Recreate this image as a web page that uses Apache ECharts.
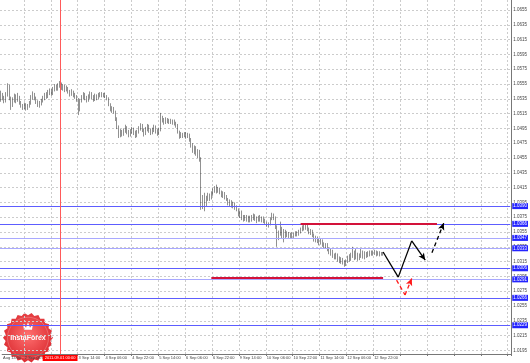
<!DOCTYPE html>
<html><head><meta charset="utf-8">
<script src="https://cdn.jsdelivr.net/npm/echarts@6/dist/echarts.min.js"></script>
<style>html,body{margin:0;padding:0;background:#fff}#c{width:530px;height:363px}</style>
</head><body><div id="c"></div>
<script>
// [open, close, low, high] per hourly bar
const candles = [
[1.0535,1.0541,1.0531,1.0546],[1.0541,1.0537,1.0533,1.0543],[1.0537,1.0533,1.0529,1.0539],[1.0533,1.0540,1.0530,1.0544],
[1.0540,1.0551,1.0538,1.0556],[1.0551,1.0536,1.0533,1.0554],[1.0536,1.0526,1.0520,1.0538],[1.0526,1.0534,1.0524,1.0537],
[1.0534,1.0538,1.0530,1.0542],[1.0538,1.0533,1.0529,1.0541],[1.0533,1.0537,1.0531,1.0543],[1.0537,1.0530,1.0527,1.0539],
[1.0530,1.0526,1.0523,1.0532],[1.0526,1.0523,1.0520,1.0528],[1.0523,1.0527,1.0521,1.0530],[1.0527,1.0522,1.0519,1.0529],
[1.0522,1.0525,1.0520,1.0528],[1.0525,1.0529,1.0523,1.0532],[1.0529,1.0537,1.0527,1.0540],[1.0537,1.0541,1.0534,1.0545],
[1.0541,1.0536,1.0533,1.0543],[1.0536,1.0531,1.0528,1.0538],[1.0531,1.0527,1.0524,1.0533],[1.0527,1.0529,1.0523,1.0532],
[1.0529,1.0533,1.0526,1.0535],[1.0533,1.0536,1.0530,1.0539],[1.0536,1.0540,1.0533,1.0543],[1.0540,1.0538,1.0535,1.0544],
[1.0538,1.0543,1.0536,1.0547],[1.0543,1.0546,1.0540,1.0549],[1.0546,1.0542,1.0539,1.0548],[1.0542,1.0548,1.0540,1.0551],
[1.0548,1.0551,1.0545,1.0555],[1.0551,1.0549,1.0546,1.0554],[1.0549,1.0553,1.0546,1.0556],[1.0553,1.0555,1.0550,1.0559],
[1.0555,1.0550,1.0547,1.0557],[1.0550,1.0552,1.0546,1.0555],[1.0552,1.0547,1.0544,1.0554],[1.0547,1.0549,1.0545,1.0553],
[1.0549,1.0545,1.0542,1.0551],[1.0545,1.0541,1.0538,1.0547],[1.0541,1.0544,1.0539,1.0548],[1.0544,1.0540,1.0537,1.0546],
[1.0540,1.0538,1.0535,1.0543],[1.0538,1.0534,1.0531,1.0540],[1.0534,1.0520,1.0513,1.0536],[1.0520,1.0532,1.0518,1.0535],
[1.0532,1.0537,1.0530,1.0540],[1.0537,1.0541,1.0534,1.0544],[1.0541,1.0536,1.0533,1.0543],[1.0536,1.0533,1.0530,1.0539],
[1.0533,1.0538,1.0531,1.0541],[1.0538,1.0542,1.0535,1.0545],[1.0542,1.0537,1.0534,1.0544],[1.0537,1.0535,1.0531,1.0540],
[1.0535,1.0539,1.0532,1.0542],[1.0539,1.0536,1.0533,1.0541],[1.0536,1.0540,1.0534,1.0543],[1.0540,1.0542,1.0537,1.0544],
[1.0542,1.0539,1.0537,1.0544],[1.0539,1.0541,1.0537,1.0543],[1.0541,1.0538,1.0536,1.0543],[1.0538,1.0535,1.0533,1.0540],
[1.0535,1.0527,1.0525,1.0537],[1.0527,1.0520,1.0518,1.0529],[1.0520,1.0522,1.0516,1.0525],[1.0522,1.0517,1.0515,1.0524],
[1.0517,1.0508,1.0505,1.0519],[1.0508,1.0497,1.0494,1.0510],[1.0497,1.0486,1.0482,1.0499],[1.0486,1.0490,1.0483,1.0494],
[1.0490,1.0487,1.0484,1.0493],[1.0487,1.0492,1.0485,1.0495],[1.0492,1.0496,1.0489,1.0500],[1.0496,1.0490,1.0487,1.0498],
[1.0490,1.0486,1.0483,1.0493],[1.0486,1.0491,1.0484,1.0494],[1.0491,1.0494,1.0488,1.0497],[1.0494,1.0489,1.0486,1.0496],
[1.0489,1.0485,1.0482,1.0492],[1.0485,1.0490,1.0483,1.0493],[1.0490,1.0495,1.0488,1.0498],[1.0495,1.0499,1.0492,1.0502],
[1.0499,1.0493,1.0490,1.0501],[1.0493,1.0488,1.0484,1.0495],[1.0488,1.0494,1.0486,1.0497],[1.0494,1.0498,1.0491,1.0501],
[1.0498,1.0492,1.0489,1.0500],[1.0492,1.0489,1.0486,1.0495],[1.0489,1.0493,1.0487,1.0496],[1.0493,1.0497,1.0490,1.0500],
[1.0497,1.0491,1.0488,1.0499],[1.0491,1.0487,1.0485,1.0494],[1.0487,1.0493,1.0486,1.0496],[1.0493,1.0510,1.0491,1.0516],
[1.0510,1.0506,1.0503,1.0512],[1.0506,1.0503,1.0500,1.0509],[1.0503,1.0507,1.0501,1.0510],[1.0507,1.0504,1.0502,1.0509],
[1.0504,1.0506,1.0501,1.0508],[1.0506,1.0503,1.0501,1.0508],[1.0503,1.0505,1.0500,1.0507],[1.0505,1.0502,1.0499,1.0507],
[1.0502,1.0499,1.0496,1.0504],[1.0499,1.0490,1.0488,1.0501],[1.0490,1.0484,1.0481,1.0492],[1.0484,1.0487,1.0482,1.0490],
[1.0487,1.0485,1.0482,1.0489],[1.0485,1.0488,1.0483,1.0490],[1.0488,1.0484,1.0481,1.0490],[1.0484,1.0486,1.0482,1.0489],
[1.0486,1.0480,1.0477,1.0488],[1.0480,1.0472,1.0469,1.0482],[1.0472,1.0466,1.0462,1.0475],[1.0466,1.0469,1.0460,1.0472],
[1.0469,1.0461,1.0458,1.0471],[1.0461,1.0464,1.0455,1.0467],[1.0464,1.0454,1.0450,1.0466],[1.0454,1.0392,1.0385,1.0456],
[1.0392,1.0400,1.0386,1.0405],[1.0400,1.0393,1.0383,1.0408],[1.0393,1.0401,1.0389,1.0404],[1.0401,1.0405,1.0397,1.0408],
[1.0405,1.0401,1.0397,1.0407],[1.0401,1.0407,1.0399,1.0410],[1.0407,1.0411,1.0404,1.0414],[1.0411,1.0414,1.0408,1.0417],
[1.0414,1.0410,1.0407,1.0419],[1.0410,1.0413,1.0408,1.0416],[1.0413,1.0409,1.0406,1.0415],[1.0409,1.0405,1.0402,1.0411],
[1.0405,1.0407,1.0401,1.0410],[1.0407,1.0402,1.0399,1.0409],[1.0402,1.0399,1.0397,1.0405],[1.0399,1.0394,1.0391,1.0401],
[1.0394,1.0397,1.0390,1.0399],[1.0397,1.0391,1.0388,1.0398],[1.0391,1.0393,1.0387,1.0396],[1.0393,1.0388,1.0385,1.0395],
[1.0388,1.0385,1.0383,1.0391],[1.0385,1.0379,1.0376,1.0387],[1.0379,1.0382,1.0374,1.0384],[1.0382,1.0375,1.0371,1.0384],
[1.0375,1.0373,1.0369,1.0378],[1.0373,1.0376,1.0370,1.0378],[1.0376,1.0372,1.0369,1.0378],[1.0372,1.0375,1.0368,1.0377],
[1.0375,1.0371,1.0368,1.0377],[1.0371,1.0374,1.0369,1.0378],[1.0374,1.0377,1.0371,1.0380],[1.0377,1.0373,1.0370,1.0379],
[1.0373,1.0371,1.0367,1.0376],[1.0371,1.0375,1.0369,1.0377],[1.0375,1.0372,1.0369,1.0378],[1.0372,1.0374,1.0368,1.0376],
[1.0374,1.0370,1.0367,1.0376],[1.0370,1.0368,1.0366,1.0373],[1.0368,1.0364,1.0362,1.0369],[1.0364,1.0366,1.0361,1.0368],
[1.0366,1.0373,1.0364,1.0375],[1.0373,1.0378,1.0371,1.0381],[1.0378,1.0374,1.0371,1.0380],[1.0374,1.0362,1.0359,1.0376],
[1.0362,1.0348,1.0335,1.0364],[1.0348,1.0354,1.0344,1.0357],[1.0354,1.0360,1.0350,1.0369],[1.0360,1.0352,1.0346,1.0362],
[1.0352,1.0356,1.0341,1.0359],[1.0356,1.0351,1.0347,1.0358],[1.0351,1.0353,1.0348,1.0356],[1.0353,1.0350,1.0347,1.0355],
[1.0350,1.0352,1.0347,1.0354],[1.0352,1.0349,1.0346,1.0355],[1.0349,1.0351,1.0347,1.0354],[1.0351,1.0354,1.0349,1.0356],
[1.0354,1.0352,1.0349,1.0356],[1.0352,1.0355,1.0350,1.0358],[1.0355,1.0359,1.0353,1.0361],[1.0359,1.0362,1.0356,1.0364],
[1.0362,1.0360,1.0357,1.0365],[1.0360,1.0363,1.0358,1.0366],[1.0363,1.0359,1.0356,1.0365],[1.0359,1.0355,1.0352,1.0361],
[1.0355,1.0357,1.0351,1.0359],[1.0357,1.0351,1.0348,1.0358],[1.0351,1.0345,1.0342,1.0353],[1.0345,1.0348,1.0341,1.0350],
[1.0348,1.0343,1.0340,1.0349],[1.0343,1.0340,1.0337,1.0346],[1.0340,1.0344,1.0338,1.0346],[1.0344,1.0339,1.0335,1.0345],
[1.0339,1.0336,1.0333,1.0341],[1.0336,1.0338,1.0333,1.0340],[1.0338,1.0332,1.0329,1.0340],[1.0332,1.0328,1.0325,1.0334],
[1.0328,1.0330,1.0323,1.0332],[1.0330,1.0324,1.0320,1.0331],[1.0324,1.0321,1.0318,1.0326],[1.0321,1.0325,1.0318,1.0327],
[1.0325,1.0319,1.0315,1.0326],[1.0319,1.0316,1.0313,1.0322],[1.0316,1.0318,1.0312,1.0321],[1.0318,1.0314,1.0311,1.0320],
[1.0314,1.0311,1.0308,1.0317],[1.0311,1.0316,1.0309,1.0318],[1.0316,1.0321,1.0313,1.0323],[1.0321,1.0318,1.0315,1.0325],
[1.0318,1.0323,1.0316,1.0327],[1.0323,1.0327,1.0320,1.0335],[1.0327,1.0320,1.0317,1.0330],[1.0320,1.0325,1.0318,1.0332],
[1.0325,1.0319,1.0316,1.0327],[1.0319,1.0323,1.0317,1.0326],[1.0323,1.0328,1.0320,1.0333],[1.0328,1.0322,1.0319,1.0330],
[1.0322,1.0326,1.0318,1.0329],[1.0326,1.0323,1.0320,1.0328],[1.0323,1.0327,1.0321,1.0329],[1.0327,1.0325,1.0322,1.0330],
[1.0325,1.0328,1.0323,1.0330],[1.0328,1.0326,1.0323,1.0330],[1.0326,1.0329,1.0324,1.0331],[1.0329,1.0325,1.0322,1.0330],
[1.0325,1.0327,1.0323,1.0329],[1.0327,1.0324,1.0322,1.0329],[1.0324,1.0326,1.0323,1.0328],[1.0326,1.0325,1.0323,1.0328]
];
const slotCount = 303;              // hourly slots across the visible window (incl. future area)
const tickIndex = [13,29,45,61,77,93,109,125,141,157,173,189,205,221,237,253,269,285,301];
const tickLabels = ['2 Sep 06:00','','3 Sep 14:00','4 Sep 06:00','4 Sep 22:00','5 Sep 14:00','6 Sep 06:00','6 Sep 22:00','9 Sep 14:00','10 Sep 06:00','10 Sep 22:00','11 Sep 14:00','12 Sep 06:00','12 Sep 22:00','','','','',''];
const firstLabel = 'Aug 14:00';
const priceMin = 1.0195, priceMax = 1.0655, priceStep = 0.0020;
const levels = [1.0390, 1.0366, 1.0347, 1.0333, 1.0306, 1.0291, 1.0266, 1.0229];
const levelPale = [false, false, true, true, false, true, false, false];
const bidPrice = 1.0325;
const markerIndex = 34, markerLabel = '2011.09.01 00:00';
const resistance = [[178, 1.0366], [259, 1.0366]];
const support = [[125, 1.0293], [227, 1.0293]];
const pathMain = [[227, 1.0328], [236, 1.0294], [244, 1.0343], [252, 1.0317]];
const pathUp = [[256, 1.0327], [263, 1.0367]];
const pathAlt = [[235, 1.0290], [240, 1.0270], [244, 1.0292]];

const categories = [];
for (let i = 0; i < slotCount; i++) categories.push(String(i));
const tickSet = new Set(tickIndex);
const labelMap = {0: firstLabel};
tickIndex.forEach((k, j) => { labelMap[k] = tickLabels[j]; });

function segs(path, style, arrow) {
  const out = [];
  for (let i = 0; i < path.length - 1; i++) {
    const last = i === path.length - 2;
    out.push([
      {coord: path[i], symbol: 'none', lineStyle: style},
      {coord: path[i + 1], symbol: (arrow && last) ? 'arrow' : 'none', symbolSize: [5, 7]}
    ]);
  }
  return out;
}
const blk = {color: '#000', width: 1.3, type: 'solid'};
const blkD = {color: '#000', width: 1.3, type: [4, 3]};
const redD = {color: '#ff1a1a', width: 1.3, type: [4, 3]};
const redS = {color: '#d3123a', width: 2, type: 'solid'};

const FONT = 'Liberation Sans';
const levelData = levels.map((v, i) => ({
  yAxis: v,
  lineStyle: {color: levelPale[i] ? '#a9a9ff' : '#5d5dff', width: 1, type: 'solid'},
  label: {show: true, position: 'end', distance: 2, formatter: v.toFixed(4), color: '#fff',
    backgroundColor: '#2424ff', fontSize: 4.5, fontFamily: FONT, padding: [0.5, 1]}
}));
levelData.push({
  yAxis: bidPrice, lineStyle: {opacity: 0},
  label: {show: true, position: 'end', distance: 2, formatter: bidPrice.toFixed(4), color: '#fff',
    backgroundColor: '#000', fontSize: 4.5, fontFamily: FONT, padding: [0.5, 1]}
});

function seal(cx, cy, R, r, n) {
  const pts = [];
  for (let i = 0; i < n * 2; i++) {
    const a = Math.PI * i / n;
    const rr = i % 2 ? r : R;
    pts.push([cx + rr * Math.cos(a), cy + rr * Math.sin(a)]);
  }
  return pts;
}

const chart = echarts.init(document.getElementById('c'), null, {renderer: 'canvas'});
chart.setOption({
  animation: false,
  backgroundColor: '#fff',
  grid: [
    {left: 0, right: 19, top: 0, bottom: 9},
    {left: 0, right: 19, top: 10, bottom: 12.6}
  ],
  xAxis: [
    {type: 'category', gridIndex: 0, data: categories, boundaryGap: true,
     axisLine: {lineStyle: {color: '#777', width: 1}},
     axisTick: {show: true, length: 2, interval: (i) => tickSet.has(i), lineStyle: {color: '#777'}},
     axisLabel: {interval: (i) => i === 0 || tickSet.has(i), formatter: (v, i) => labelMap[i] || '',
       fontSize: 4, color: '#444', align: 'left', margin: 2, fontFamily: FONT},
     splitLine: {show: true, interval: (i) => tickSet.has(i), lineStyle: {color: '#cccccc', type: [2, 2], width: 1}}},
    {type: 'category', gridIndex: 1, data: categories, boundaryGap: true, show: false}
  ],
  yAxis: [
    {type: 'value', gridIndex: 0, min: 0, max: 1, position: 'right',
     axisLine: {show: true, lineStyle: {color: '#777'}}, axisLabel: {show: false},
     axisTick: {show: false}, splitLine: {show: false}},
    {type: 'value', gridIndex: 1, min: priceMin, max: priceMax, interval: priceStep, position: 'right',
     axisLine: {show: false}, axisTick: {show: false},
     axisLabel: {fontSize: 4.5, color: '#444', margin: 3, fontFamily: FONT, formatter: (v) => v.toFixed(4)},
     splitLine: {lineStyle: {color: '#cccccc', type: [2, 2], width: 1}}}
  ],
  series: [
    {type: 'line', xAxisIndex: 1, yAxisIndex: 1, data: [], silent: true, z: 1,
     markLine: {silent: true, precision: 4, symbol: ['none', 'none'], animation: false, data: levelData}},
    {type: 'candlestick', xAxisIndex: 1, yAxisIndex: 1, data: candles, barWidth: 0.9, z: 2,
     itemStyle: {color: '#222', color0: '#222', borderColor: '#222', borderColor0: '#222', borderWidth: 0.5}},
    {type: 'line', xAxisIndex: 1, yAxisIndex: 1, data: [], silent: true, z: 3,
     markLine: {silent: true, precision: 4, symbol: ['none', 'none'], animation: false, label: {show: false},
       data: [].concat(segs(resistance, redS, false), segs(support, redS, false),
                       segs(pathMain, blk, true), segs(pathUp, blkD, true), segs(pathAlt, redD, true))}},
    {type: 'line', xAxisIndex: 0, yAxisIndex: 0, data: [], silent: true,
     markLine: {silent: true, symbol: ['none', 'none'], animation: false,
       lineStyle: {color: '#ff5a5a', width: 1, type: 'solid'},
       data: [{xAxis: markerIndex,
         label: {show: true, position: 'start', distance: 1, formatter: markerLabel, color: '#fff',
           backgroundColor: '#ff0000', fontSize: 4, fontFamily: FONT, padding: [1, 2]}}]}}
  ],
  graphic: [{
    type: 'group', left: 3, top: 313, z: 100,
    children: [
      {type: 'polygon', shape: {points: seal(25, 25, 25, 22.6, 22)},
       style: {fill: {type: 'radial', x: 0.5, y: 0.45, r: 0.6,
         colorStops: [{offset: 0, color: '#ff6f6f'}, {offset: 1, color: '#d8262c'}]}}},
      {type: 'circle', shape: {cx: 25, cy: 25, r: 20.5}, style: {fill: 'none', stroke: 'rgba(255,255,255,0.35)', lineWidth: 0.6}},
      {type: 'polygon', shape: {points: [[20,11],[23,15],[25,9.5],[27,15],[30,11],[29,17],[21,17]]}, style: {fill: '#fff'}},
      {type: 'text', style: {text: 'InstaForex', x: 25, y: 25, align: 'center', verticalAlign: 'middle',
        fill: '#fff', font: 'bold 7px "Liberation Sans"'}}
    ]
  }]
});
</script></body></html>
